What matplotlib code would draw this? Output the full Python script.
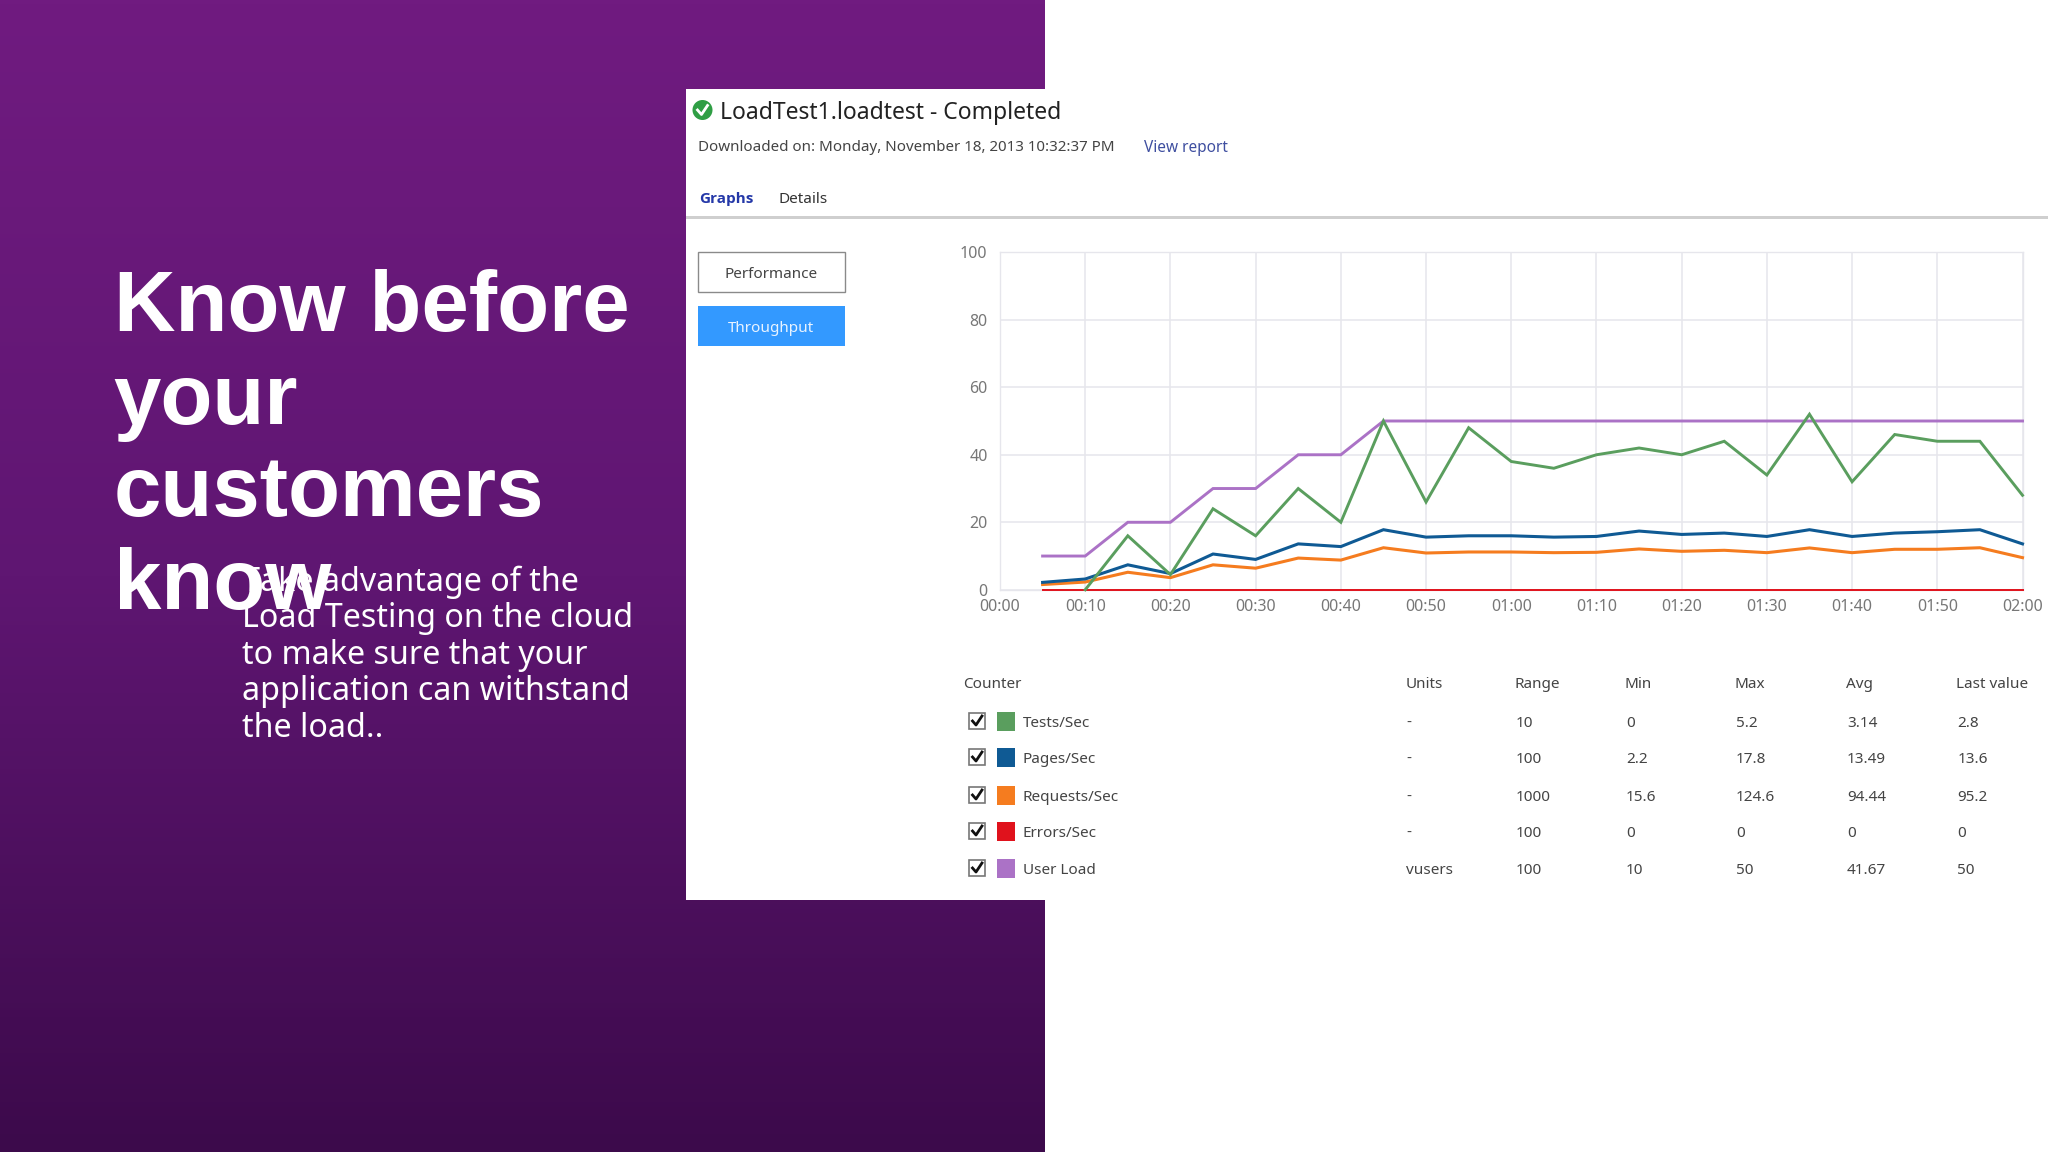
import numpy as np
import matplotlib
matplotlib.use("Agg")
import matplotlib.pyplot as plt
from matplotlib.patches import Rectangle, Circle
from matplotlib.colors import LinearSegmentedColormap

W, H = 2048, 1152

headline_lines = ["Know before", "your", "customers", "know"]
body_lines = ["Take advantage of the", "Load Testing on the cloud", "to make sure that your",
              "application can withstand", "the load.."]

minutes = [5, 10, 15, 20, 25, 30, 35, 40, 45, 50, 55, 60, 65, 70, 75, 80, 85, 90, 95, 100, 105, 110, 115, 120]
tests_per_sec = [np.nan, 0, 1.6, 0.45, 2.4, 1.6, 3.0, 2.0, 5.0, 2.6, 4.8, 3.8, 3.6, 4.0, 4.2, 4.0, 4.4, 3.4, 5.2, 3.2, 4.6, 4.4, 4.4, 2.8]
pages_per_sec = [2.2, 3.2, 7.4, 4.8, 10.6, 9.0, 13.6, 12.8, 17.8, 15.6, 16.0, 16.0, 15.6, 15.8, 17.4, 16.4, 16.8, 15.8, 17.8, 15.8, 16.8, 17.2, 17.8, 13.6]
requests_per_sec = [15.6, 23, 52, 36, 74, 64, 94, 88, 124.6, 109, 112, 112, 110, 111, 121, 114, 117, 110, 124, 110, 120, 120, 124.6, 95.2]
errors_per_sec = [0] * 24
user_load = [10, 10, 20, 20, 30, 30, 40, 40, 50, 50, 50, 50, 50, 50, 50, 50, 50, 50, 50, 50, 50, 50, 50, 50]

counters = ["Tests/Sec", "Pages/Sec", "Requests/Sec", "Errors/Sec", "User Load"]
units = ["-", "-", "-", "-", "vusers"]
ranges = ["10", "100", "1000", "100", "100"]
mins = ["0", "2.2", "15.6", "0", "10"]
maxs = ["5.2", "17.8", "124.6", "0", "50"]
avgs = ["3.14", "13.49", "94.44", "0", "41.67"]
lasts = ["2.8", "13.6", "95.2", "0", "50"]
colors = ["#5a9e5e", "#0f5a94", "#f57c1f", "#e0121c", "#ab72c6"]
range_scale = [10, 1, 0.1, 1, 1]

y_ticks = [0, 20, 40, 60, 80, 100]
x_ticks = list(range(0, 121, 10))
x_labels = ["00:00", "00:10", "00:20", "00:30", "00:40", "00:50", "01:00", "01:10", "01:20", "01:30", "01:40", "01:50", "02:00"]

UI = ["Noto Sans", "DejaVu Sans"]
fig = plt.figure(figsize=(W / 100, H / 100), dpi=100, facecolor="white")

# page layer in pixel coordinates
bg = fig.add_axes([0, 0, 1, 1])
bg.set_xlim(0, W)
bg.set_ylim(H, 0)
bg.axis("off")
cmap = LinearSegmentedColormap.from_list("p", ["#701b80", "#5f1672", "#3c0a4b"])
bg.imshow(np.linspace(0, 1, 256).reshape(-1, 1), cmap=cmap, extent=[0, 1045, H, 0], aspect="auto", zorder=0)
bg.set_xlim(0, W)
bg.set_ylim(H, 0)
bg.add_patch(Rectangle((685.5, 89), W - 685.5, 811, fc="white", ec="none", zorder=1))

for i, line in enumerate(headline_lines):
    bg.text(113.5, 309 + i * 92.7, line, color="white", family="Liberation Sans", weight="bold",
            fontsize=61.3, va="center", ha="left", zorder=3)
for i, line in enumerate(body_lines):
    bg.text(241.5, 582 + i * 36.6, line, color="white", family="Noto Sans",
            fontsize=23.2, va="center", ha="left", zorder=4)

# header
bg.add_patch(Circle((702.5, 110), 10, fc="#2f9e44", ec="none", zorder=3))
bg.plot([697.5, 701.5, 707.5], [110, 114.5, 105.5], color="white", lw=2, zorder=4)
bg.text(720, 113, "LoadTest1.loadtest - Completed", family=UI, fontsize=16.5, color="#222222", va="center", zorder=3)
bg.text(698, 147.5, "Downloaded on: Monday, November 18, 2013 10:32:37 PM", family=UI, fontsize=10.9, color="#444444", va="center", zorder=3)
bg.text(1144, 147.5, "View report", family=UI, fontsize=11.1, color="#3f4fa0", va="center", zorder=3)
bg.text(699, 199.5, "Graphs", family="Open Sans", fontsize=11, weight="bold", color="#2438a8", va="center", zorder=3)
bg.text(778, 199.5, "Details", family=UI, fontsize=11, color="#333333", va="center", zorder=3)
bg.add_patch(Rectangle((685.5, 215.5), W - 685.5, 3.5, fc="#cfcfcf", ec="none", zorder=3))
bg.add_patch(Rectangle((698, 252), 147, 39.5, fc="white", ec="#8a8a8a", lw=1.0, zorder=3))
bg.text(771.5, 274, "Performance", family=UI, fontsize=11, color="#444444", va="center", ha="center", zorder=4)
bg.add_patch(Rectangle((698, 306), 147, 40, fc="#3399ff", ec="none", zorder=3))
bg.text(771.5, 328, "Throughput", family=UI, fontsize=11, color="#e8f3ff", va="center", ha="center", zorder=4)

# table
header_y = 684
row_ys = [722, 758, 796, 832, 869]
bg.text(963, header_y, "Counter", family=UI, fontsize=11, color="#444444", va="center", zorder=3)
columns = [(1405.5, "Units", units), (1515, "Range", ranges), (1625, "Min", mins),
           (1735, "Max", maxs), (1846, "Avg", avgs), (1956.5, "Last value", lasts)]
for x, name, vals in columns:
    bg.text(x, header_y, name, family=UI, fontsize=11, color="#444444", va="center", zorder=3)
    for y, v in zip(row_ys, vals):
        bg.text(x + 1, y + 1.5, v, family=UI, fontsize=11, color="#444444", va="center", zorder=3)
for y, name, c in zip(row_ys, counters, colors):
    bg.add_patch(Rectangle((969, y - 9), 16, 16, fc="white", ec="#777777", lw=1.2, zorder=3))
    bg.plot([972.5, 976, 982], [y - 1, y + 3, y - 6], color="#111111", lw=2, zorder=4)
    bg.add_patch(Rectangle((997, y - 10.5), 18, 19, fc=c, ec="none", zorder=3))
    bg.text(1022.7, y + 1.5, name, family=UI, fontsize=11, color="#444444", va="center", zorder=3)

# chart
x0, x1, ytop, ybot = 1000, 2022.5, 252.2, 589.8
ax = fig.add_axes([x0 / W, 1 - ybot / H, (x1 - x0) / W, (ybot - ytop) / H], facecolor="none", zorder=5)
ax.set_xlim(0, 120)
ax.set_ylim(0, 100)
ax.set_xticks(x_ticks, x_labels)
ax.set_yticks(y_ticks)
ax.grid(True, color="#e6e6ec", lw=1.1)
ax.set_axisbelow(True)
for s in ax.spines.values():
    s.set_color("#e6e6ec")
    s.set_linewidth(1.0)
ax.tick_params(length=0, labelcolor="#777777", labelsize=11.5, pad=6.5)
ax.tick_params(axis="y", pad=9)
for lab in ax.get_xticklabels() + ax.get_yticklabels():
    lab.set_fontfamily(UI)
series = [tests_per_sec, pages_per_sec, requests_per_sec, errors_per_sec, user_load]
widths = [2.1, 2.2, 2.2, 1.4, 2.1]
for idx in [4, 3, 2, 1, 0]:
    vals = np.array(series[idx], dtype=float) * range_scale[idx]
    ax.plot(minutes, vals, color=colors[idx], lw=widths[idx], clip_on=False, solid_joinstyle="miter", zorder=3 + (4 - idx))

fig.savefig("out.png", dpi=100, facecolor="white")
